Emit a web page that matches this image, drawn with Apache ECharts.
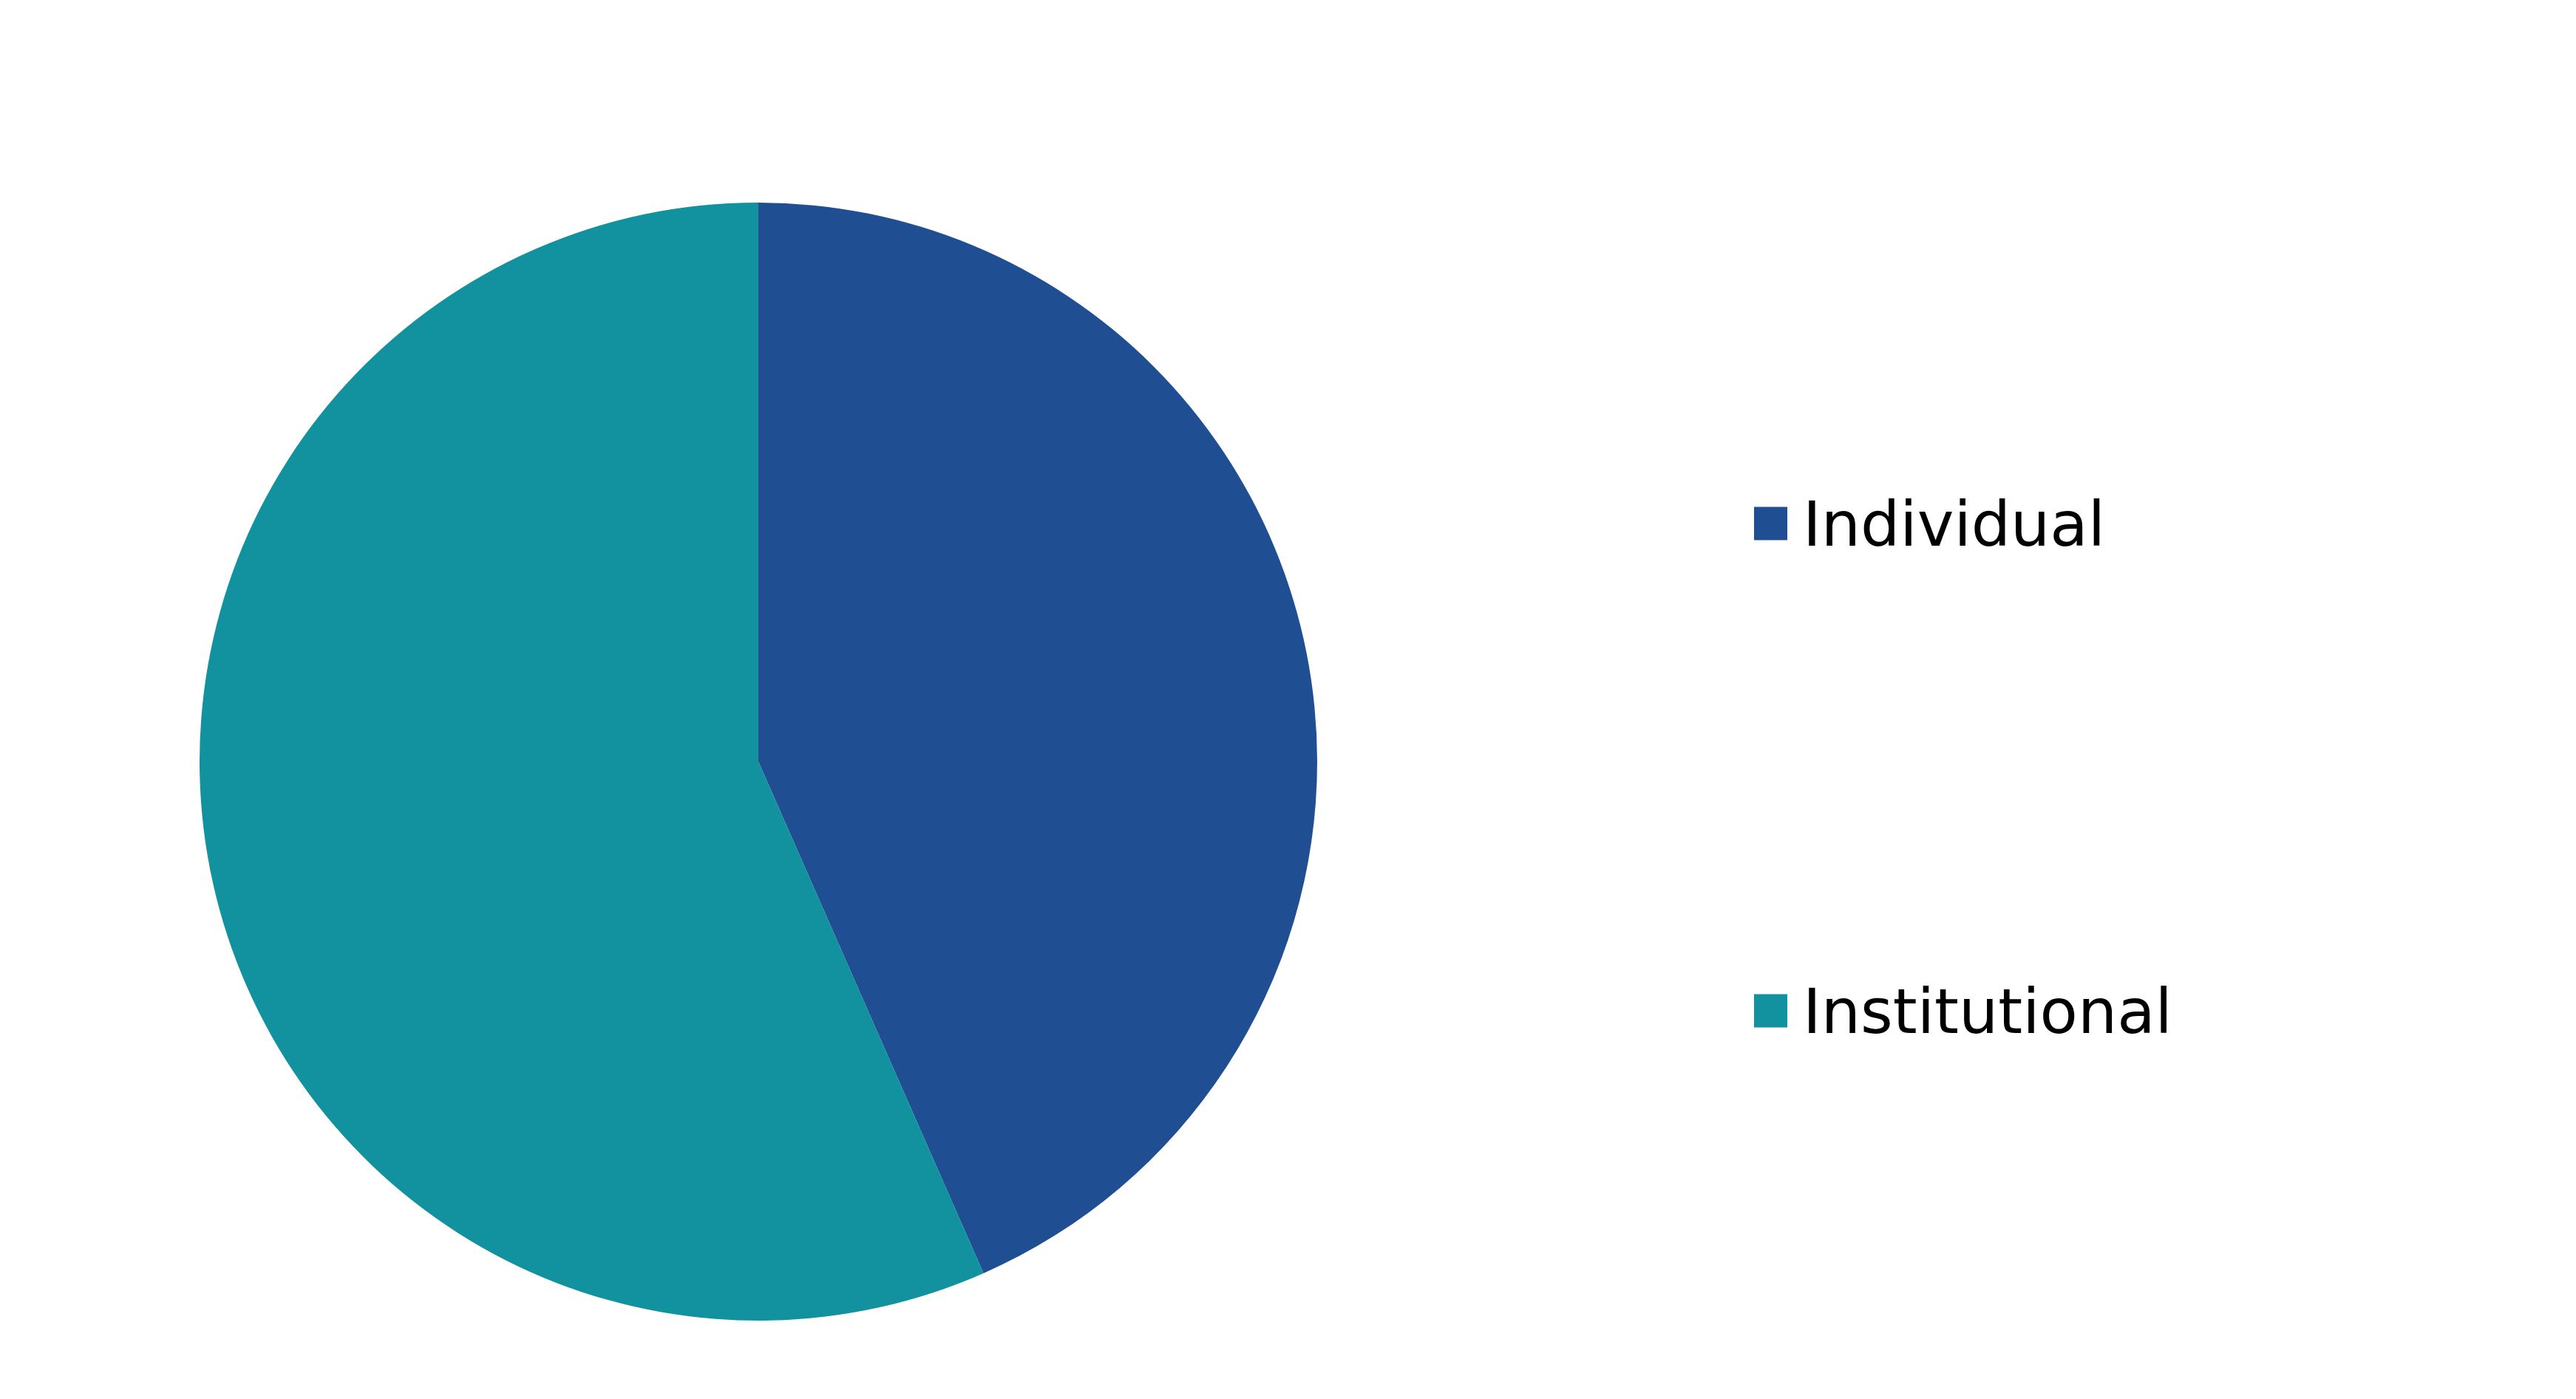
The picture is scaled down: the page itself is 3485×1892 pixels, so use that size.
<!DOCTYPE html>
<html>
<head>
<meta charset="utf-8">
<script src="https://cdn.jsdelivr.net/npm/echarts@6/dist/echarts.min.js"></script>
<style>
html,body{margin:0;padding:0;background:#fff;}
#chart{width:3485px;height:1892px;}
</style>
</head>
<body>
<div id="chart"></div>
<script>
const categories = ["Individual", "Institutional"];
const values = [43.4, 56.6];
const colors = ["#1f4e92", "#12919e"];

const chart = echarts.init(document.getElementById('chart'), null, {renderer: 'canvas'});
const legendText = {
  fontFamily: 'DejaVu Sans', fontSize: 84, color: '#000',
  rich: {t: {fontFamily: 'DejaVu Sans', fontSize: 84, color: '#000', padding: [16, 0, 0, 16]}}
};
chart.setOption({
  animation: false,
  backgroundColor: '#ffffff',
  legend: [
    {data: [categories[0]], left: 2373, top: 674, padding: 0, orient: 'vertical', icon: 'rect', itemWidth: 45, itemHeight: 45, formatter: '{t|{name}}', textStyle: legendText},
    {data: [categories[1]], left: 2373, top: 1333, padding: 0, orient: 'vertical', icon: 'rect', itemWidth: 45, itemHeight: 45, formatter: '{t|{name}}', textStyle: legendText}
  ],
  series: [{
    type: 'pie',
    center: [1026, 1030],
    radius: 756,
    startAngle: 90,
    clockwise: true,
    label: {show: false},
    labelLine: {show: false},
    itemStyle: {borderWidth: 0},
    emphasis: {disabled: true},
    data: categories.map((c, i) => ({name: c, value: values[i], itemStyle: {color: colors[i]}}))
  }]
});
</script>
</body>
</html>
